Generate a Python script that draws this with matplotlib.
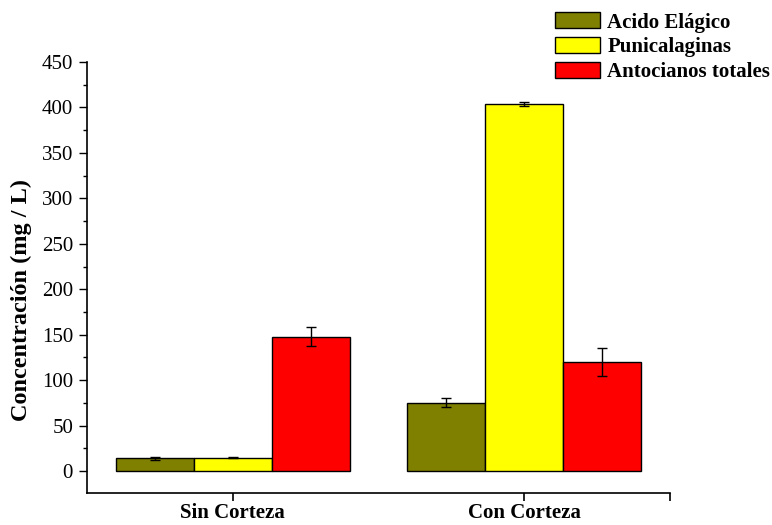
import numpy as np
import matplotlib.pyplot as plt
from matplotlib.ticker import MultipleLocator

plt.rcParams['font.family'] = ['Liberation Serif', 'DejaVu Serif']

groups = ['Sin Corteza', 'Con Corteza']
series = ['Acido Elágico', 'Punicalaginas', 'Antocianos totales']
colors = ['#808000', '#ffff00', '#ff0000']
values = [[14, 75], [15, 404], [148, 120]]
errors = [[2, 5], [0.5, 2], [10, 15]]

fig = plt.figure(figsize=(7.72, 5.25), dpi=100)
ax = fig.add_axes([0.1127, 0.061, 0.755, 0.821])

x = np.arange(len(groups))
w = 0.268
for i, (name, col) in enumerate(zip(series, colors)):
    ax.bar(x + (i - 1) * w, values[i], w, yerr=errors[i], color=col,
           edgecolor='black', linewidth=1.0, label=name,
           error_kw=dict(ecolor='black', elinewidth=1.0, capsize=3.5, capthick=1.0))

ax.set_xlim(-0.5, 1.5)
ax.set_ylim(-24, 450)
ax.set_xticks(x)
ax.set_xticklabels(groups, fontsize=15, fontweight='bold')
ax.set_xticks([1.5], minor=True)
ax.yaxis.set_major_locator(MultipleLocator(50))
ax.yaxis.set_minor_locator(MultipleLocator(25))
ax.set_yticks(np.arange(0, 451, 50))
ax.tick_params(axis='y', labelsize=15, direction='out', length=6, width=1, pad=4)
ax.tick_params(axis='y', which='minor', length=3, width=1)
ax.tick_params(axis='x', which='both', direction='out', length=6, width=1.2, pad=1)
ax.set_ylabel('Concentración (mg / L)', fontsize=17.5, fontweight='bold')
ax.yaxis.set_label_coords(-0.094, 0.448)

for s in ['top', 'right']:
    ax.spines[s].set_visible(False)
for s in ['left', 'bottom']:
    ax.spines[s].set_linewidth(1.2)

fig.legend(loc='upper left', bbox_to_anchor=(0.694, 1.012), frameon=False,
           prop={'size': 15, 'weight': 'bold'}, handlelength=2.2, handleheight=0.8,
           labelspacing=0.22, handletextpad=0.33)

fig.savefig('out.png', dpi=100)
